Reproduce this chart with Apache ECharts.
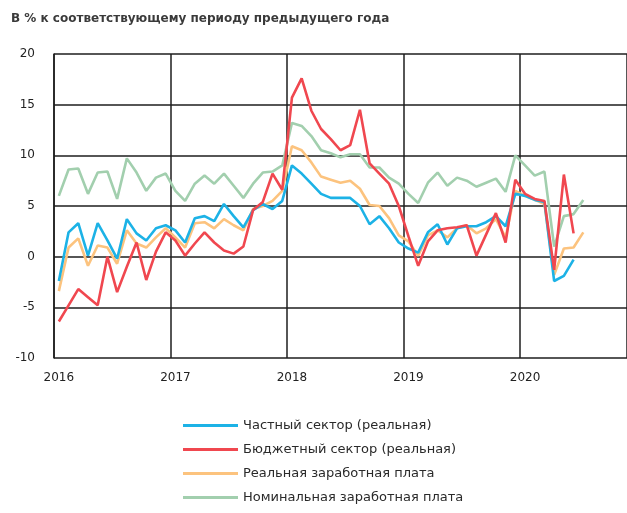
<!DOCTYPE html>
<html>
<head>
<meta charset="utf-8">
<script src="https://cdn.jsdelivr.net/npm/echarts@6/dist/echarts.min.js"></script>
<style>
  html, body { margin: 0; padding: 0; background: #fff; }
  #chart { width: 627px; height: 513px; }
</style>
</head>
<body>
<div id="chart"></div>
<script>
// месяцы: янв 2016 — ноя 2020 (правый край графика)
const months = []
for (let y = 2016; y <= 2020; y++) {
  for (let m = 1; m <= 12; m++) {
    if (y === 2020 && m > 11) break
    months.push(y + '-' + String(m).padStart(2, '0'))
  }
}

const yTicks = [-10, -5, 0, 5, 10, 15, 20]

// Частный сектор (реальная)
const privateSector = [
  -2.4, 2.4, 3.3, 0.1, 3.3, 1.6, -0.2, 3.7, 2.3, 1.6, 2.8, 3.1,
  2.6, 1.4, 3.8, 4.0, 3.5, 5.2, 4.0, 2.9, 4.6, 5.2, 4.7, 5.5,
  9.0, 8.2, 7.2, 6.2, 5.8, 5.8, 5.8, 5.0, 3.2, 4.0, 2.8, 1.4,
  0.8, 0.4, 2.4, 3.2, 1.2, 2.8, 3.0, 3.0, 3.4, 4.0, 3.0, 6.2,
  6.0, 5.6, 5.4, -2.4, -1.9, -0.3
]
// Бюджетный сектор (реальная)
const budgetSector = [
  -6.4, -4.8, -3.2, -4.0, -4.8, 0.0, -3.5, -1.0, 1.4, -2.3, 0.5, 2.4,
  1.6, 0.1, 1.3, 2.4, 1.4, 0.6, 0.3, 1.0, 4.6, 5.4, 8.2, 6.6,
  15.7, 17.6, 14.4, 12.6, 11.6, 10.5, 11.0, 14.5, 9.2, 8.2, 7.2, 5.0,
  2.0, -0.9, 1.5, 2.6, 2.8, 2.9, 3.1, 0.1, 2.2, 4.3, 1.4, 7.6,
  6.2, 5.7, 5.5, -1.3, 8.1, 2.3
]
// Реальная заработная плата
const realWage = [
  -3.4, 0.9, 1.8, -0.9, 1.1, 0.9, -0.7, 2.6, 1.3, 0.9, 1.9, 2.8,
  1.9, 0.9, 3.3, 3.4, 2.8, 3.7, 3.1, 2.6, 4.7, 5.0, 5.5, 6.5,
  10.9, 10.5, 9.3, 7.9, 7.6, 7.3, 7.5, 6.7, 5.1, 5.0, 3.8, 2.1,
  1.5, 0.1, 2.1, 2.6, 1.9, 2.8, 3.1, 2.3, 2.8, 3.7, 1.9, 6.5,
  6.0, 5.6, 5.2, -1.8, 0.8, 0.9, 2.4
]
// Номинальная заработная плата
const nominalWage = [
  6.0, 8.6, 8.7, 6.2, 8.3, 8.4, 5.7, 9.7, 8.3, 6.5, 7.8, 8.2,
  6.5, 5.5, 7.2, 8.0, 7.2, 8.2, 7.0, 5.8, 7.2, 8.3, 8.4, 9.0,
  13.2, 12.9, 11.9, 10.5, 10.2, 9.8, 10.1, 10.1, 8.8, 8.8, 7.8, 7.2,
  6.2, 5.3, 7.3, 8.3, 7.0, 7.8, 7.5, 6.9, 7.3, 7.7, 6.4, 10.0,
  9.0, 8.0, 8.4, 1.0, 4.0, 4.2, 5.6
]

const chart = echarts.init(document.getElementById('chart'))

const font = 'DejaVu Sans'
const gridColor = '#1e1e1e'

const makeSeries = (name, data, color, z) => ({
  name: name,
  type: 'line',
  data: data,
  z: z,
  showSymbol: false,
  symbol: 'none',
  lineStyle: { color: color, width: 2.6 },
  itemStyle: { color: color }
})

const option = {
  animation: false,
  title: {
    text: 'В % к соответствующему периоду предыдущего года',
    left: 6,
    top: 8,
    textStyle: { fontFamily: font, fontSize: 12, fontWeight: 'bold', color: '#3a3a3a' }
  },
  grid: { left: 54, right: 0, top: 54, bottom: 155 },
  legend: {
    orient: 'vertical',
    left: 178,
    top: 414,
    icon: 'rect',
    itemWidth: 55,
    itemHeight: 3,
    itemGap: 11,
    textStyle: { fontFamily: font, fontSize: 13, color: '#2a2a2a', padding: [0, 0, 0, 0] },
    data: ['Частный сектор (реальная)', 'Бюджетный сектор (реальная)', 'Реальная заработная плата', 'Номинальная заработная плата']
  },
  xAxis: {
    type: 'category',
    data: months,
    boundaryGap: true,
    axisLine: { show: false },
    axisTick: { show: false },
    axisLabel: {
      interval: (index, value) => value.endsWith('-01'),
      formatter: (value) => value.slice(0, 4),
      margin: 14,
      fontFamily: font,
      fontSize: 12,
      color: '#222'
    },
    splitLine: {
      show: true,
      interval: (index) => index % 12 === 0,
      lineStyle: { color: gridColor, width: 1.5 }
    }
  },
  yAxis: {
    type: 'value',
    min: yTicks[0],
    max: yTicks[yTicks.length - 1],
    interval: 5,
    axisLine: { show: true, lineStyle: { color: gridColor, width: 1.5 } },
    axisTick: { show: false },
    axisLabel: { margin: 19, fontFamily: font, fontSize: 12, color: '#222' },
    splitLine: { show: true, lineStyle: { color: gridColor, width: 1.5 } }
  },
  series: [
    makeSeries('Частный сектор (реальная)', privateSector, '#1cb2e6', 4),
    makeSeries('Бюджетный сектор (реальная)', budgetSector, '#f0474f', 5),
    makeSeries('Реальная заработная плата', realWage, '#fcc37e', 3),
    makeSeries('Номинальная заработная плата', nominalWage, '#a2cfae', 2)
  ]
}

chart.setOption(option)
</script>
</body>
</html>
